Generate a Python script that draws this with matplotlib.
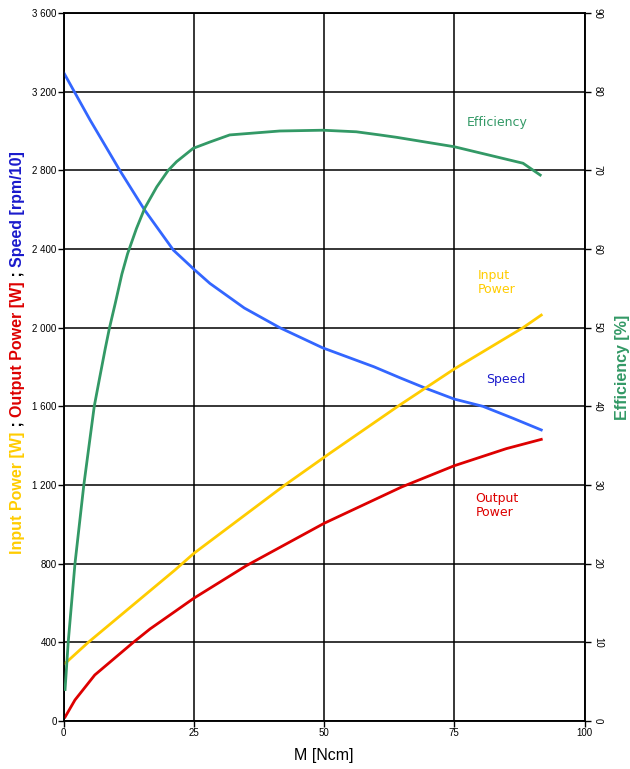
import matplotlib
matplotlib.use("Agg")
import matplotlib.pyplot as plt
from matplotlib.ticker import FuncFormatter

# torque M [Ncm] and curve values
speed_m = [0.1, 5.1, 10.8, 15.6, 21.1, 25.2, 28.1, 34.7, 41.5, 49.7, 59.6, 64.6, 69.6, 75.0, 80.5, 86.3, 91.7]
speed = [3294, 3056, 2800, 2597, 2394, 2293, 2225, 2100, 2000, 1898, 1801, 1745, 1691, 1637, 1600, 1539, 1480]

eff_m = [0.3, 0.9, 2.2, 3.9, 5.9, 6.9, 8.0, 8.8, 9.9, 11.2, 12.3, 14.0, 15.6, 17.9, 20.1, 21.7,
         24.9, 28.1, 31.9, 41.5, 49.8, 56.2, 60.7, 63.9, 75.0, 88.2, 91.5]
eff = [4, 10, 20, 30, 40, 43.5, 47.3, 49.9, 53.0, 56.8, 59.4, 62.6, 65.2, 67.9, 70.0, 71.1,
       72.8, 73.6, 74.5, 75.0, 75.1, 74.9, 74.5, 74.2, 73.0, 70.9, 69.4]

pin_m = [0.0, 0.6, 4.75, 21.4, 25.0, 42.5, 51.1, 64.5, 75.0, 88.2, 91.7]
pin = [290, 300, 400, 768, 852, 1200, 1361, 1606, 1790, 2000, 2064]

pout_m = [0.3, 2.2, 6.0, 13.4, 16.6, 21.4, 25.0, 35.1, 50.0, 64.9, 75.0, 85.0, 91.7]
pout = [20, 107, 234, 400, 468, 557, 624, 790, 1005, 1190, 1298, 1385, 1432]

x_ticks = [0, 25, 50, 75, 100]
left_ticks = list(range(0, 3601, 400))
right_ticks = list(range(0, 91, 10))

c_speed = "#3366ff"
c_eff = "#339966"
c_in = "#ffcc00"
c_out = "#dd0000"
c_speed_txt = "#1a1acc"

plt.rcParams['font.family'] = ['Liberation Sans', 'DejaVu Sans']

fig = plt.figure(figsize=(6.3, 7.69), dpi=100)
ax = fig.add_axes([0.1008, 0.0624, 0.8270, 0.9207])
ax2 = ax.twinx()

ax.plot(speed_m, speed, color=c_speed, lw=2, zorder=3)
ax.plot(pin_m, pin, color=c_in, lw=2, zorder=3)
ax.plot(pout_m, pout, color=c_out, lw=2, zorder=3)
ax2.plot(eff_m, eff, color=c_eff, lw=2, zorder=3)

ax.set_xlim(0, 100)
ax.set_ylim(0, 3600)
ax2.set_ylim(0, 90)
ax.set_xticks(x_ticks)
ax.set_yticks(left_ticks)
ax2.set_yticks(right_ticks)
ax.yaxis.set_major_formatter(FuncFormatter(lambda v, p: f"{int(v):,}".replace(",", " ")))
ax.grid(True, color="black", lw=1.1)
ax.set_axisbelow(True)
for a in (ax, ax2):
    for s in a.spines.values():
        s.set_linewidth(1.1)
ax.tick_params(labelsize=7, length=4, width=1, pad=1)
ax2.tick_params(labelsize=7, length=4, width=1, pad=2, labelrotation=-90)
for t in ax2.get_yticklabels():
    t.set_va("center")

ax.set_xlabel("M [Ncm]", fontsize=11.5, labelpad=7)
ax2.set_ylabel("Efficiency [%]", color=c_eff, fontsize=11.5, fontweight="bold", rotation=90, labelpad=9)

# series names inside the plot
ax.text(83.3, 3045, "Efficiency", color=c_eff, fontsize=9, family="DejaVu Sans", ha="center", va="center")
ax.text(79.5, 2232, "Input\nPower", color=c_in, fontsize=9, family="DejaVu Sans", ha="left", va="center", linespacing=1.1)
ax.text(84.9, 1739, "Speed", color=c_speed_txt, fontsize=9, family="DejaVu Sans", ha="center", va="center")
ax.text(79.1, 1098, "Output\nPower", color=c_out, fontsize=9, family="DejaVu Sans", ha="left", va="center", linespacing=1.1)

# multi-coloured left label
parts = [("Input Power [W]", c_in), (" ; ", "black"), ("Output Power [W]", c_out),
         (" ; ", "black"), ("Speed [rpm/10]", c_speed_txt)]
r = fig.canvas.get_renderer()
texts = [fig.text(0.027, 0, s, color=c, rotation=90, ha="center", va="bottom",
                  fontsize=11.5, fontweight="bold") for s, c in parts]
hs = [t.get_window_extent(r).height / fig.bbox.height for t in texts]
y = 0.542 - sum(hs) / 2
for t, h in zip(texts, hs):
    t.set_y(y)
    y += h

fig.savefig("out.png", dpi=100)
